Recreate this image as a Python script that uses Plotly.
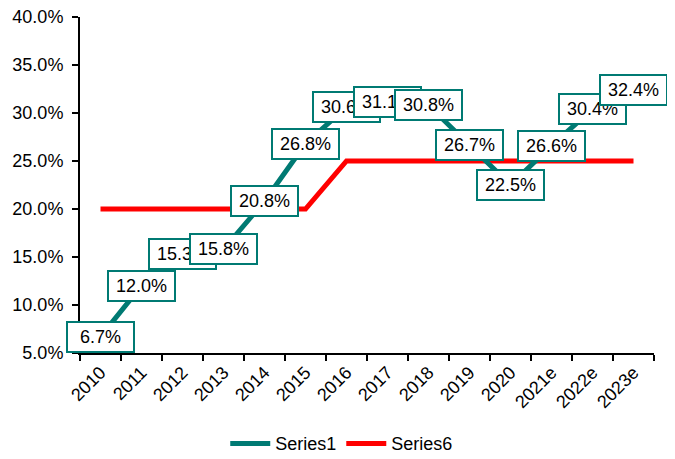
import plotly.graph_objects as go

categories = ["2010", "2011", "2012", "2013", "2014", "2015", "2016", "2017",
              "2018", "2019", "2020", "2021e", "2022e", "2023e"]
series1 = [6.7, 12.0, 15.3, 15.8, 20.8, 26.8, 30.6, 31.1, 30.8, 26.7, 22.5, 26.6, 30.4, 32.4]
series6 = [20, 20, 20, 20, 20, 20, 25, 25, 25, 25, 25, 25, 25, 25]
y_ticks = [5, 10, 15, 20, 25, 30, 35, 40]

TEAL = "#007A73"
RED = "#FF0000"
FONT = "Liberation Sans, Arial, sans-serif"
FS = 18

fig = go.Figure()
fig.add_trace(go.Scatter(x=categories, y=series6, mode="lines", name="Series6",
                         line=dict(color=RED, width=5), legendrank=2))
fig.add_trace(go.Scatter(x=categories, y=series1, mode="lines", name="Series1",
                         line=dict(color=TEAL, width=5), legendrank=1))

for i, v in enumerate(series1):
    fig.add_annotation(x=i, y=v, text=f"{v:.1f}%", showarrow=False,
                       width=63, height=26,
                       bgcolor="white", bordercolor=TEAL, borderwidth=2, borderpad=1,
                       font=dict(family=FONT, size=FS, color="black"))

# page body has an 8px margin, so the figure margins are offset to compensate
fig.update_layout(
    width=675, height=459,
    margin=dict(l=72, r=29, t=9, b=114, autoexpand=False),
    plot_bgcolor="white", paper_bgcolor="white",
    font=dict(family=FONT, size=FS, color="black"),
    showlegend=True,
    legend=dict(orientation="h", x=0.456, xanchor="center", y=-0.27, yanchor="middle",
                font=dict(size=FS), itemwidth=40),
    xaxis=dict(type="category", range=[-0.5, len(categories) - 0.5], automargin=False,
               tickson="boundaries", ticks="outside", ticklen=6,
               tickwidth=2, tickcolor="black", showline=True, linecolor="black",
               linewidth=2, tickangle=-45, showgrid=False, zeroline=False,
               tickfont=dict(size=FS)),
    yaxis=dict(range=[5, 40], tickvals=y_ticks, ticktext=[f"{t:.1f}%" for t in y_ticks],
               automargin=False, ticklabelstandoff=5, ticklabeloverflow="allow",
               ticks="outside", ticklen=6, tickwidth=2, tickcolor="black",
               showline=True, linecolor="black", linewidth=2, showgrid=False,
               zeroline=False, tickfont=dict(size=FS)),
)

fig.write_html("out.html")
